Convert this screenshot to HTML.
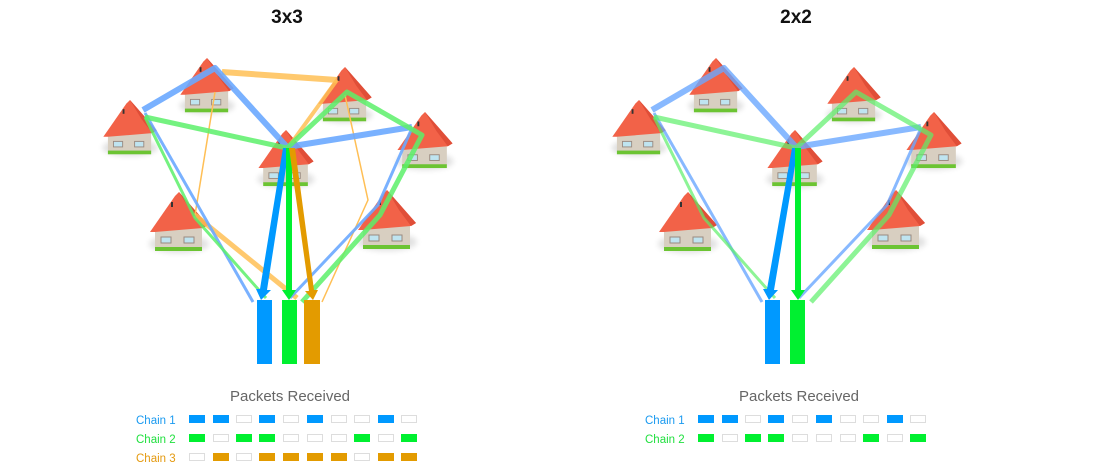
<!DOCTYPE html>
<html><head><meta charset="utf-8"><style>
html,body{margin:0;padding:0;background:#fff;width:1100px;height:473px;overflow:hidden}
svg{display:block}
text{font-family:"Liberation Sans","DejaVu Sans",sans-serif}
</style></head><body>
<svg width="1100" height="473" viewBox="0 0 1100 473" xmlns="http://www.w3.org/2000/svg">
<defs>
<filter id="sh" x="-30%" y="-50%" width="160%" height="200%"><feGaussianBlur stdDeviation="3"/></filter>
<g id="house">
<ellipse cx="0" cy="52" rx="30" ry="9" fill="#000" opacity="0.12" filter="url(#sh)"/>
<rect x="-24" y="34" width="47" height="22" fill="#d8cfc1"/>
<rect x="-24" y="55" width="47" height="4" fill="#6cc433"/>
<rect x="-18" y="45" width="10" height="6" fill="#bfe4f0" stroke="#9a8a80" stroke-width="1"/>
<rect x="5" y="45" width="10" height="6" fill="#bfe4f0" stroke="#9a8a80" stroke-width="1"/>
<polygon points="-29,40 -4,4 0,0 29,33 24,36 -24,40" fill="#f26248"/>
<polygon points="0,0 29,33 24,36 12,20" fill="#e04e38"/>
<rect x="-8" y="10" width="2" height="5" fill="#333"/>
</g>
<g id="houses">
<use href="#house" transform="translate(207,58) scale(0.92)"/>
<use href="#house" transform="translate(130,100) scale(0.92)"/>
<use href="#house" transform="translate(345,67) scale(0.92)"/>
<use href="#house" transform="translate(425,112) scale(0.95)"/>
<use href="#house" transform="translate(286,130) scale(0.95)"/>
<use href="#house" transform="translate(179,192)"/>
<use href="#house" transform="translate(387,190)"/>
</g>
</defs>

<text x="287" y="23" font-size="19" font-weight="bold" text-anchor="middle" fill="#111">3x3</text>
<text x="796" y="23" font-size="19" font-weight="bold" text-anchor="middle" fill="#111">2x2</text>

<!-- 3x3 -->
<use href="#houses"/>
<g fill="none" stroke-linejoin="round" stroke-linecap="butt">
<polyline points="222,72 337,80" stroke="#ffbf55" stroke-width="6" opacity="0.85"/>
<polyline points="337,80 290,145" stroke="#ffbf55" stroke-width="4" opacity="0.85"/>
<polyline points="215,92 195,215" stroke="#ffbf55" stroke-width="1.5"/>
<polyline points="345,95 368,200 322,302" stroke="#ffbf55" stroke-width="1.5"/>
<polyline points="195,215 297,298" stroke="#ffbf55" stroke-width="5" opacity="0.85"/>
<polyline points="143,110 215,68 287,147 412,127" stroke="#6aa8ff" stroke-width="6" opacity="0.9"/>
<polyline points="145,113 253,302" stroke="#6aa8ff" stroke-width="3" opacity="0.9"/>
<polyline points="412,128 378,205 290,298" stroke="#6aa8ff" stroke-width="3" opacity="0.9"/>
<polyline points="145,117 287,148 347,92 422,135 380,215 302,302" stroke="#5cf06a" stroke-width="5" opacity="0.85"/>
<polyline points="145,117 195,218 266,298" stroke="#5cf06a" stroke-width="3" opacity="0.85"/>
</g>
<polygon points="283,148 289,148 267,290 271,290 261,300 256,289 260,289" fill="#0099ff"/>
<polygon points="286,148 292,148 292,290 296,290 289,300 282,290 286,290" fill="#00f030"/>
<polygon points="289,148 295,148 314,290 318,290 313,300 305,291 309,291" fill="#e39b00"/>
<rect x="257" y="300" width="15" height="64" fill="#0099ff"/>
<rect x="282" y="300" width="15" height="64" fill="#00f030"/>
<rect x="304" y="300" width="16" height="64" fill="#e39b00"/>

<!-- 2x2 -->
<g transform="translate(509,0)">
<use href="#houses"/>
<g fill="none" stroke-linejoin="round">
<polyline points="143,110 215,68 287,147 412,127" stroke="#6aa8ff" stroke-width="6" opacity="0.8"/>
<polyline points="145,113 253,302" stroke="#6aa8ff" stroke-width="3" opacity="0.8"/>
<polyline points="412,128 378,205 290,298" stroke="#6aa8ff" stroke-width="3" opacity="0.8"/>
<polyline points="145,117 287,148 347,92 422,135 380,215 302,302" stroke="#5cf06a" stroke-width="5" opacity="0.7"/>
<polyline points="145,117 195,218 266,298" stroke="#5cf06a" stroke-width="3" opacity="0.7"/>
</g>
<polygon points="283,148 289,148 265,290 269,290 260,300 254,289 258,289" fill="#0099ff"/>
<polygon points="286,148 292,148 292,290 296,290 289,300 282,290 286,290" fill="#00f030"/>
<rect x="256" y="300" width="15" height="64" fill="#0099ff"/>
<rect x="281" y="300" width="15" height="64" fill="#00f030"/>
</g>

<!-- legends -->
<g font-size="15" fill="#666" text-anchor="middle">
<text x="290" y="401">Packets Received</text>
<text x="799" y="401">Packets Received</text>
</g>
<g font-size="11.5">
<text x="136" y="424" fill="#1a9af0">Chain 1</text>
<text x="136" y="443" fill="#22e040">Chain 2</text>
<text x="136" y="462" fill="#e49a10">Chain 3</text>
<text x="645" y="424" fill="#1a9af0">Chain 1</text>
<text x="645" y="443" fill="#22e040">Chain 2</text>
</g>
<g id="leg" stroke-width="1">
<g fill="#0099ff">
<rect x="189" y="415" width="16" height="8"/><rect x="213" y="415" width="16" height="8"/>
<rect x="259" y="415" width="16" height="8"/><rect x="307" y="415" width="16" height="8"/>
<rect x="378" y="415" width="16" height="8"/>
</g>
<g fill="#fff" stroke="#ddd">
<rect x="236.5" y="415.5" width="15" height="7"/><rect x="283.5" y="415.5" width="15" height="7"/>
<rect x="331.5" y="415.5" width="15" height="7"/><rect x="354.5" y="415.5" width="15" height="7"/>
<rect x="401.5" y="415.5" width="15" height="7"/>
</g>
<g fill="#00f030">
<rect x="189" y="434" width="16" height="8"/><rect x="236" y="434" width="16" height="8"/>
<rect x="259" y="434" width="16" height="8"/><rect x="354" y="434" width="16" height="8"/>
<rect x="401" y="434" width="16" height="8"/>
</g>
<g fill="#fff" stroke="#ddd">
<rect x="213.5" y="434.5" width="15" height="7"/><rect x="283.5" y="434.5" width="15" height="7"/>
<rect x="307.5" y="434.5" width="15" height="7"/><rect x="331.5" y="434.5" width="15" height="7"/>
<rect x="378.5" y="434.5" width="15" height="7"/>
</g>
</g>
<g fill="#e39b00">
<rect x="213" y="453" width="16" height="8"/><rect x="259" y="453" width="16" height="8"/>
<rect x="283" y="453" width="16" height="8"/><rect x="307" y="453" width="16" height="8"/>
<rect x="331" y="453" width="16" height="8"/><rect x="378" y="453" width="16" height="8"/>
<rect x="401" y="453" width="16" height="8"/>
</g>
<g fill="#fff" stroke="#ddd">
<rect x="189.5" y="453.5" width="15" height="7"/><rect x="236.5" y="453.5" width="15" height="7"/>
<rect x="354.5" y="453.5" width="15" height="7"/>
</g>
<use href="#leg" transform="translate(509,0)"/>
</svg>
</body></html>
